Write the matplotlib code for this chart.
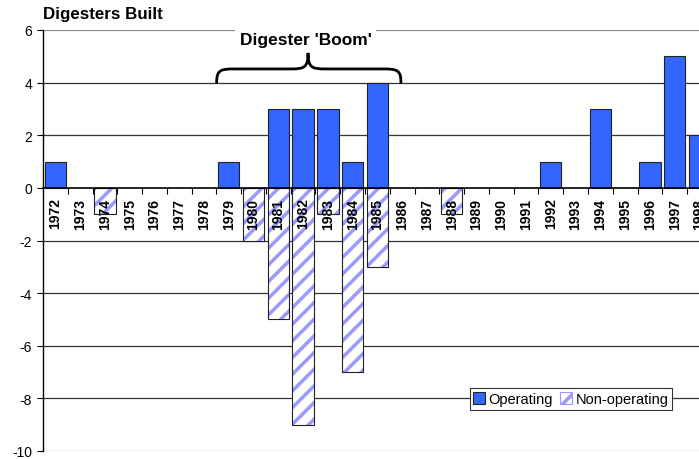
import matplotlib
matplotlib.use("Agg")
import matplotlib.pyplot as plt
from matplotlib.path import Path
from matplotlib.patches import PathPatch, Patch
import numpy as np

plt.rcParams['font.family'] = ['Liberation Sans', 'DejaVu Sans']
plt.rcParams['hatch.linewidth'] = 2.5

# data
years = [str(y) for y in range(1972, 1999)]
operating = [1, 0, 0, 0, 0, 0, 0, 1, 0, 3, 3, 3, 1, 4, 0, 0, 0, 0, 0, 0, 1, 0, 3, 0, 1, 5, 2]
non_operating = [0, 0, -1, 0, 0, 0, 0, 0, -2, -5, -9, -1, -7, -3, 0, 0, -1, 0, 0, 0, 0, 0, 0, 0, 0, 0, 0]
yticks = [6, 4, 2, 0, -2, -4, -6, -8, -10]

blue = '#3366ff'
hatch_blue = '#9999ff'

fig = plt.figure(figsize=(6.99, 4.60), dpi=100)
# axes is wider than the figure on purpose: the last years are cut off
ax = fig.add_axes([43 / 699, 8 / 460, 693.6 / 699, 421 / 460])

x = np.arange(len(years))
op = np.array(operating)
nop = np.array(non_operating)
w = 0.86

# gridlines behind the bars
for yv in yticks:
    if yv == 0:
        continue
    c = '#888888' if yv in (6, -10) else '#333333'
    ax.axhline(yv, color=c, lw=0.9, zorder=0.5)

m = op != 0
ax.bar(x[m], op[m], width=w, color=blue, edgecolor='#222222', lw=0.8, zorder=1.5)

m = nop != 0
ax.bar(x[m], nop[m], width=w, color='white', edgecolor=hatch_blue, hatch='//', lw=0, zorder=1.4)
ax.bar(x[m], nop[m], width=w, color='none', edgecolor='#222222', lw=0.8, zorder=1.6)

ax.set_xlim(-0.5, len(years) + 0.5)
ax.set_ylim(-10, 6)
ax.set_yticks(yticks)
ax.set_yticklabels([str(v) for v in yticks], fontsize=10)
ax.tick_params(axis='y', length=4, width=0.8, pad=4)

ax.spines['bottom'].set_position(('data', 0))
ax.spines['bottom'].set_linewidth(1.2)
ax.spines['top'].set_visible(False)
ax.spines['right'].set_visible(False)
ax.spines['left'].set_linewidth(1.0)

ax.set_xticks(x)
ax.set_xticklabels(years, rotation=90, fontsize=10, fontweight='bold', va='top')
ax.set_xticks(x[:-1] + 0.5, minor=True)
ax.tick_params(axis='x', which='major', length=0, pad=7)
ax.tick_params(axis='x', which='minor', length=4, width=0.8, direction='out')

# brace over the boom years
x0, x1, xm = 6.51, 13.95, 10.2
yb, yh, yp = 4.0, 4.52, 5.13
verts = [
    (x0, yb), (x0, yh - 0.05), (x0 + 0.15, yh), (x0 + 0.7, yh),
    (xm - 0.7, yh),
    (xm - 0.15, yh), (xm, yh + 0.05), (xm, yp),
    (xm, yh + 0.05), (xm + 0.15, yh), (xm + 0.7, yh),
    (x1 - 0.7, yh),
    (x1 - 0.15, yh), (x1, yh - 0.05), (x1, yb),
]
codes = [Path.MOVETO, Path.CURVE4, Path.CURVE4, Path.CURVE4,
         Path.LINETO,
         Path.CURVE4, Path.CURVE4, Path.CURVE4,
         Path.CURVE4, Path.CURVE4, Path.CURVE4,
         Path.LINETO,
         Path.CURVE4, Path.CURVE4, Path.CURVE4]
ax.add_patch(PathPatch(Path(verts, codes), fc='none', ec='black', lw=2.0,
                       capstyle='round', zorder=3, clip_on=False))

ax.text(xm - 0.1, 5.63, "Digester 'Boom'", ha='center', va='center',
        fontsize=12.5, fontweight='bold', zorder=3,
        bbox=dict(fc='white', ec='none', pad=3))

fig.text(43 / 699, 1 - 15 / 460, 'Digesters Built', fontsize=12.2,
         fontweight='bold', va='center', ha='left')

handles = [Patch(fc=blue, ec='#222222', lw=0.8),
           Patch(fc='white', ec=hatch_blue, hatch='//', lw=0.8)]
leg = ax.legend(handles, ['Operating', 'Non-operating'], ncol=2,
                loc='center', bbox_to_anchor=(571 / 699, 1 - 400 / 460),
                bbox_transform=fig.transFigure, fontsize=10.5,
                frameon=True, fancybox=False, framealpha=1,
                edgecolor='#333333', handlelength=0.8, handleheight=0.8,
                handletextpad=0.25, columnspacing=0.5, borderpad=0.25,
                borderaxespad=0)
leg.get_frame().set_linewidth(0.8)
leg.set_zorder(4)

fig.savefig('out.png', dpi=100)
